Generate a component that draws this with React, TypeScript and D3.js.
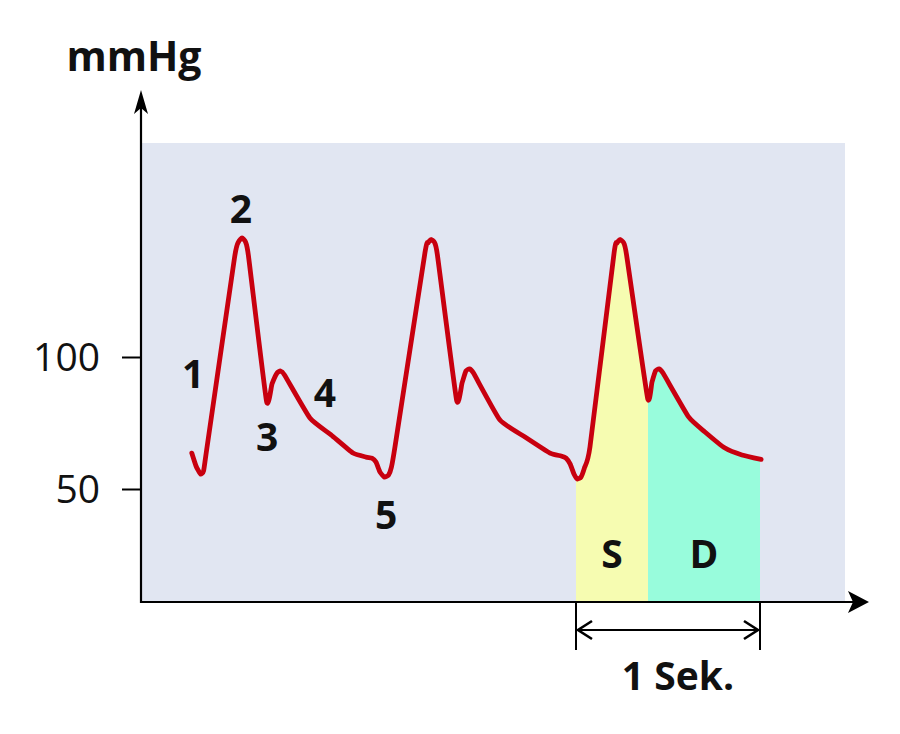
import React, { useEffect, useRef } from 'react';
import * as d3 from 'd3';

const width = 900;
const height = 734;
const plot = { left: 141, right: 845, top: 143, bottom: 602 };
const red = '#c8000f';
const bgBlue = '#e1e6f2';
const yellow = '#f6fcb1';
const mint = '#98fcdc';
const font = '"Open Sans", "DejaVu Sans", sans-serif';

// pulse curve: time in seconds, pressure in mmHg
const timeSec = [
  0.276, 0.299, 0.323, 0.340, 0.359, 0.508, 0.530, 0.549, 0.568, 0.584,
  0.682, 0.712, 0.739, 0.758, 0.780, 0.918, 1.033, 1.152, 1.223, 1.255,
  1.277, 1.299, 1.323, 1.345, 1.361, 1.380,
  1.543, 1.560, 1.576, 1.595, 1.611, 1.715, 1.745, 1.766, 1.785, 1.807,
  1.951, 2.087, 2.223, 2.283, 2.310, 2.332, 2.353, 2.372, 2.391, 2.410, 2.440,
  2.571, 2.587, 2.603, 2.622, 2.639, 2.753, 2.777, 2.796, 2.815, 2.837,
  2.976, 3.065, 3.174, 3.266, 3.370,
];
const pressure = [
  63.6, 58.7, 55.7, 56.8, 65.9, 137.5, 143.6, 145.1, 143.6, 138.3,
  83.3, 89.8, 93.9, 94.7, 93.2, 76.9, 70.5, 63.6, 62.1, 61.7,
  60.2, 56.4, 54.5, 55.3, 58.3, 65.9,
  139.4, 143.2, 144.5, 143.4, 138.6, 83.7, 90.2, 94.7, 95.5, 93.9,
  76.1, 69.7, 63.6, 62.5, 61.7, 59.5, 55.7, 53.8, 54.5, 58.0, 65.9,
  139.4, 143.2, 144.5, 143.4, 138.6, 84.5, 90.5, 94.7, 95.5, 93.9,
  77.3, 71.6, 65.5, 62.9, 61.2,
];

const yTicks = [50, 100];
const unitLabel = 'mmHg';

// numbered points of the wave (label, time, pressure)
const markLabels = ['1', '2', '3', '4', '5'];
const markTime = [0.283, 0.543, 0.685, 1.0, 1.332];
const markPressure = [94.3, 156.8, 70.4, 87.1, 40.9];

// systole / diastole of the last beat
const phaseNames = ['S', 'D'];
const phaseEdges = [2.364, 2.755, 3.364];
const spanLabel = '1 Sek.';

export default function App() {
  const yAxisRef = useRef<SVGGElement>(null);

  const x = d3.scaleLinear().domain([0, 3.826]).range([plot.left, plot.right]);
  const y = d3.scaleLinear().domain([50, 100]).range([489, 357]);

  const pts: [number, number][] = timeSec.map((t, i) => [t, pressure[i]]);
  const curve = d3.curveCardinal.tension(0.55);
  const line = d3.line<[number, number]>().x(d => x(d[0])).y(d => y(d[1])).curve(curve);
  const area = d3.area<[number, number]>().x(d => x(d[0])).y0(plot.bottom).y1(d => y(d[1])).curve(curve);

  useEffect(() => {
    const g = d3.select(yAxisRef.current);
    g.call(d3.axisLeft(y).tickValues(yTicks).tickSize(19).tickPadding(22) as any);
    g.select('.domain').remove();
    g.attr('font-family', font).attr('font-size', 39);
    g.selectAll('line').attr('stroke', '#000').attr('stroke-width', 2);
    g.selectAll('text').attr('fill', '#111').attr('dy', '0.34em');
  }, []);

  const sx0 = x(phaseEdges[0]);
  const sx1 = x(phaseEdges[1]);
  const sx2 = x(phaseEdges[2]);
  const brY = 630;

  return (
    <svg width={width} height={height} style={{ position: 'absolute', left: 0, top: 0, background: '#fff' }}>
      <defs>
        <clipPath id="clipS"><rect x={sx0} y={plot.top} width={sx1 - sx0} height={plot.bottom - plot.top} /></clipPath>
        <clipPath id="clipD"><rect x={sx1} y={plot.top} width={sx2 - sx1} height={plot.bottom - plot.top} /></clipPath>
      </defs>
      <rect x={plot.left} y={plot.top} width={plot.right - plot.left} height={plot.bottom - plot.top} fill={bgBlue} />
      <path d={area(pts) || ''} fill={yellow} clipPath="url(#clipS)" />
      <path d={area(pts) || ''} fill={mint} clipPath="url(#clipD)" />
      <path d={line(pts) || ''} fill="none" stroke={red} strokeWidth={4.8} strokeLinejoin="round" strokeLinecap="round" />

      {phaseNames.map((p, i) => (
        <text key={p} x={(x(phaseEdges[i]) + x(phaseEdges[i + 1])) / 2} y={552} textAnchor="middle" dominantBaseline="central"
          fontFamily={font} fontWeight="bold" fontSize={39} fill="#111">{p}</text>
      ))}
      {markLabels.map((m, i) => (
        <text key={m} x={x(markTime[i])} y={y(markPressure[i])} textAnchor="middle" dominantBaseline="central"
          fontFamily={font} fontWeight="bold" fontSize={39} fill="#111">{m}</text>
      ))}

      {/* axes */}
      <line x1={plot.left} y1={plot.bottom + 1} x2={plot.left} y2={104} stroke="#000" strokeWidth={2.2} />
      <path d={`M${plot.left},90 L${plot.left + 7},114 L${plot.left},108 L${plot.left - 7},114 Z`} fill="#000" />
      <line x1={plot.left - 1} y1={plot.bottom} x2={858} y2={plot.bottom} stroke="#000" strokeWidth={2.2} />
      <path d={`M869,${plot.bottom} L848,${plot.bottom - 11} L853,${plot.bottom} L848,${plot.bottom + 11} Z`} fill="#000" />
      <g ref={yAxisRef} transform={`translate(${plot.left},0)`} />
      <text x={134} y={71} textAnchor="middle" fontFamily={font} fontWeight="bold" fontSize={41} fill="#111">{unitLabel}</text>

      {/* 1 second bracket */}
      <g stroke="#000" strokeWidth={2} fill="none">
        <line x1={sx0} y1={plot.bottom} x2={sx0} y2={650} />
        <line x1={sx2} y1={plot.bottom} x2={sx2} y2={650} />
        <line x1={sx0 + 2} y1={brY} x2={sx2 - 2} y2={brY} />
        <path d={`M${sx0 + 16},${brY - 9} L${sx0 + 2},${brY} L${sx0 + 16},${brY + 9}`} strokeWidth={2.6} />
        <path d={`M${sx2 - 16},${brY - 9} L${sx2 - 2},${brY} L${sx2 - 16},${brY + 9}`} strokeWidth={2.6} />
      </g>
      <text x={(sx0 + sx2) / 2 + 10} y={690} textAnchor="middle" fontFamily={font} fontWeight="bold" fontSize={39} fill="#111">{spanLabel}</text>
    </svg>
  );
}
